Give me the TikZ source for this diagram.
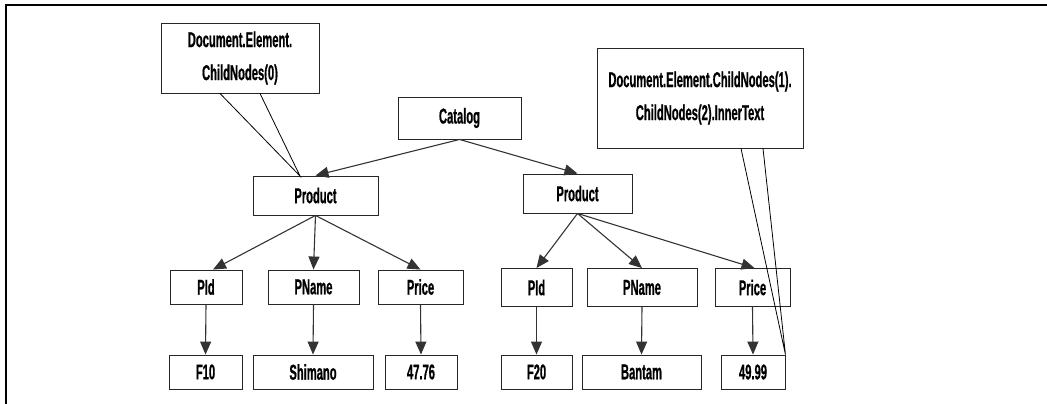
\documentclass[tikz,border=0pt]{standalone}
\usepackage{fontspec}
\setmainfont{Liberation Sans}[FakeStretch=0.52,BoldFeatures={FakeBold=0.7}]
\usetikzlibrary{arrows.meta}
\begin{document}
\begin{tikzpicture}[x=1pt,y=-1pt,
  box/.style={draw=black!85,line width=0.9pt,inner sep=0pt,anchor=center,
    font=\fontsize{21.5}{33}\selectfont\bfseries,align=center},
  arr/.style={draw=black!80,line width=1.1pt,-{Triangle[length=13pt,width=11pt]}},
  tail/.style={draw=black,line width=0.8pt}]
\useasboundingbox (0,0) rectangle (1047,404);
\draw[line width=2pt] (1047,5) -- (6,5) -- (6,404);
% level 0/1
\node[box,minimum width=123pt,minimum height=42pt] (cat) at (459.5,118) {Catalog};
\node[box,minimum width=125pt,minimum height=39pt] (p1) at (315.5,195.5) {Product};
\node[box,minimum width=109pt,minimum height=39pt] (p2) at (577.5,193.5) {Product};
% level 2
\node[box,minimum width=72pt,minimum height=34pt] (pid1) at (206,287) {PId};
\node[box,minimum width=91pt,minimum height=34pt] (pname1) at (313.5,287) {PName};
\node[box,minimum width=85pt,minimum height=34pt] (price1) at (420.5,287) {Price};
\node[box,minimum width=71pt,minimum height=38pt] (pid2) at (536.5,287.5) {PId};
\node[box,minimum width=110pt,minimum height=38pt] (pname2) at (642,287.5) {PName};
\node[box,minimum width=75pt,minimum height=38pt] (price2) at (752.5,287.5) {Price};
% level 3
\node[box,minimum width=73pt,minimum height=34pt] (f10) at (205.5,372) {F10};
\node[box,minimum width=120pt,minimum height=34pt] (shim) at (313,372) {Shimano};
\node[box,minimum width=72pt,minimum height=34pt] (v1) at (421,372) {47.76};
\node[box,minimum width=71pt,minimum height=34pt] (f20) at (536.5,372) {F20};
\node[box,minimum width=119pt,minimum height=34pt] (bant) at (641.5,372) {Bantam};
\node[box,minimum width=64pt,minimum height=34pt] (v2) at (753,372) {49.99};
% callouts
\node[box,minimum width=158pt,minimum height=70pt] (c1) at (240,58) {Document.Element.\\ChildNodes(0)};
\node[box,minimum width=206pt,minimum height=100pt] (c2) at (700,98) {Document.Element.ChildNodes(1).\\ChildNodes(2).InnerText};
\coordinate (t1) at (300,176);
\draw[tail] ([xshift=-20pt]c1.south) -- (t1) -- ([xshift=20pt]c1.south);
\draw[tail] ([xshift=41pt]c2.south) -- (v2.north east) -- ([xshift=63pt]c2.south);
% arrows
\draw[arr] (cat.south) -- (p1.north);
\draw[arr] (cat.south) -- (p2.north);
\draw[arr] (p1.south) -- ([xshift=7pt]pid1.north);
\draw[arr] (p1.south) -- (pname1.north);
\draw[arr] (p1.south) -- (price1.north);
\draw[arr] (p2.south) -- (pid2.north);
\draw[arr] (p2.south) -- (pname2.north);
\draw[arr] (p2.south) -- ([xshift=2pt]price2.north);
\draw[arr] (pid1.south) -- (f10.north);
\draw[arr] (pname1.south) -- (shim.north);
\draw[arr] (price1.south) -- (v1.north);
\draw[arr] (pid2.south) -- (f20.north);
\draw[arr] (pname2.south) -- (bant.north);
\draw[arr] (price2.south) -- (v2.north);
\end{tikzpicture}
\end{document}
